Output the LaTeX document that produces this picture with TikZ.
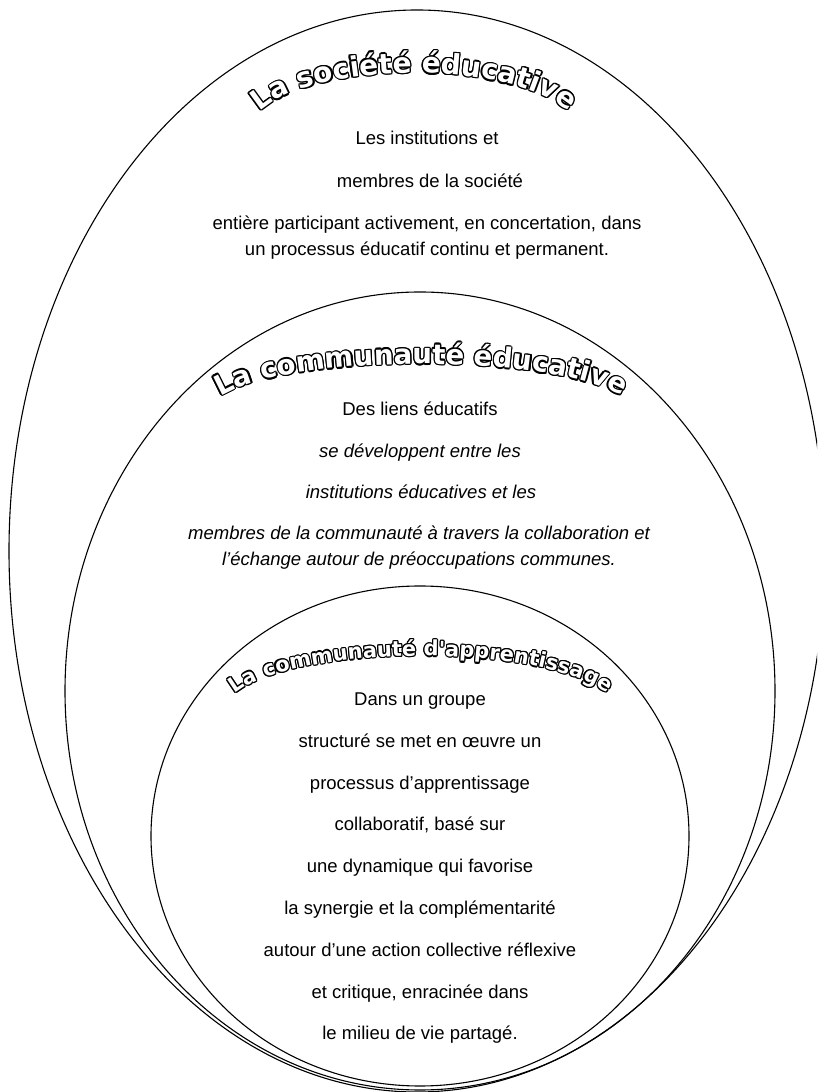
\documentclass[tikz,border=0pt]{standalone}
\usepackage{fontspec}
\setmainfont{Liberation Sans}
\newfontfamily\wordart{DejaVu Sans}
\usetikzlibrary{decorations.text}

\newcommand\socfont{\wordart\bfseries\fontsize{28}{28}\selectfont}
\newcommand\comfont{\wordart\bfseries\fontsize{27.6}{27.6}\selectfont}
\newcommand\appfont{\wordart\bfseries\fontsize{20.9}{20.9}\selectfont}

\tikzset{
  ring/.style={line width=1.1pt},
  bodytext/.style={font=\fontsize{18.5}{26}\selectfont, align=center, inner sep=0pt, anchor=base},
  archback/.style={decorate, decoration={text along path, text align=center, text={#1}, text color=black}},
  archfront/.style={decorate, decoration={text along path, text align=center, text={#1}, text color=white}},
}

\begin{document}
\begin{tikzpicture}[x=1pt,y=1pt,line cap=round,line join=round]
  \useasboundingbox (0,0) rectangle (817,1092);
  \clip (0,0) rectangle (817,1092);

  % the three circles
  \draw [ring] (417,541) ellipse [x radius=408pt, y radius=541pt];
  \draw [ring] (420,401) ellipse [x radius=355pt, y radius=399pt];
  \draw [ring] (420,256) ellipse [x radius=269pt, y radius=250pt];

  % arched titles, outlined
  \foreach \a in {0,30,...,330} {
    \path [archback={|\socfont|La société éducative}, shift={(\a:1.3pt)}]
      (249,959) arc [start angle=180, end angle=0, x radius=165pt, y radius=60pt];
    \path [archback={|\comfont|La communauté éducative}, shift={(\a:1.3pt)}]
      (209,680) arc [start angle=180, end angle=0, x radius=212pt, y radius=48pt];
    \path [archback={|\appfont|La communauté d'apprentissage}, shift={(\a:1.2pt)}]
      (225,381) arc [start angle=180, end angle=0, x radius=196pt, y radius=55pt];
  }
  \path [archfront={|\socfont|La société éducative}]
    (249,959) arc [start angle=180, end angle=0, x radius=165pt, y radius=60pt];
  \path [archfront={|\comfont|La communauté éducative}]
    (209,680) arc [start angle=180, end angle=0, x radius=212pt, y radius=48pt];
  \path [archfront={|\appfont|La communauté d'apprentissage}]
    (225,381) arc [start angle=180, end angle=0, x radius=196pt, y radius=55pt];

  % la société
  \node [bodytext] (soc1) at (427,947.5) {Les institutions et};
  \node [bodytext] (soc2) at (430,904.5) {membres de la société};
  \node [bodytext] (soc3) at (427,836.5) {entière participant activement, en concertation, dans\\un processus éducatif continu et permanent.};

  % la communauté éducative
  \node [bodytext] (com1) at (420,676.5) {Des liens éducatifs};
  \node [bodytext, font=\fontsize{18.5}{26}\selectfont\itshape] (com2) at (420,634.5) {se développent entre les};
  \node [bodytext, font=\fontsize{18.5}{26}\selectfont\itshape] (com3) at (421,593.5) {institutions éducatives et les};
  \node [bodytext, font=\fontsize{18.5}{26}\selectfont\itshape] (com4) at (419,526.5) {membres de la communauté à travers la collaboration et\\l’échange autour de préoccupations communes.};

  % la communauté d'apprentissage
  \foreach \txt [count=\i from 0] in {Dans un groupe, structuré se met en œuvre un, processus d’apprentissage,
      {collaboratif, basé sur}, une dynamique qui favorise, la synergie et la complémentarité,
      autour d’une action collective réflexive, {et critique, enracinée dans}, le milieu de vie partagé.}
    \node [bodytext] (app\i) at (420,386.5-41.8*\i) {\txt};
\end{tikzpicture}
\end{document}
